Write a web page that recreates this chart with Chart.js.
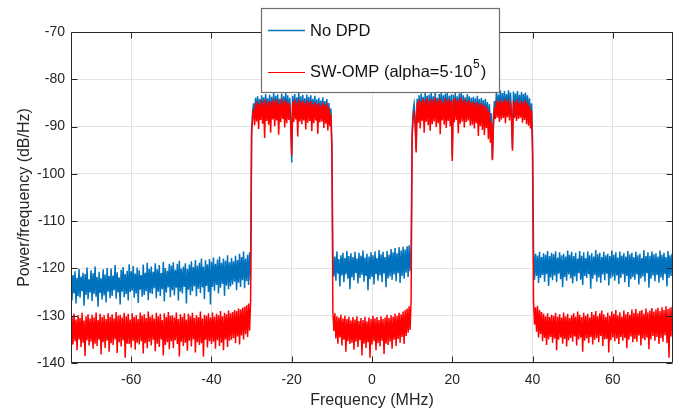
<!DOCTYPE html>
<html><head><meta charset="utf-8">
<script src="https://cdn.jsdelivr.net/npm/chart.js@4.4.1/dist/chart.umd.min.js"></script>
<style>html,body{margin:0;padding:0;background:#fff}canvas{display:block}</style>
</head><body>
<canvas id="c" width="689" height="411"></canvas>
<script>
// Sample grid of the spectrum (MHz)
const freqStartMHz = -75;
const freqStepMHz = 0.25;

// Tick labels
const xTickValues = [-60, -40, -20, 0, 20, 40, 60];
const yTickValues = [-140, -130, -120, -110, -100, -90, -80, -70];

// Series names
const noDpdName = 'No DPD';
const swOmpNameBase = 'SW-OMP (alpha=5·10';
const swOmpNameSup = '5';
const swOmpNameTail = ')';

// Power spectral density (dB/Hz), one value per 0.25 MHz
const noDpdPsd = [
// -75 .. -30.25 MHz
-119.2,-126.8,-121.4,-125.3,-120.6,-127.4,-122.0,-125.9,-120.1,-126.2,-121.7,-124.8,-120.9,-127.9,-121.2,-125.6,-119.8,-126.5,-122.3,-125.1,
-120.4,-126.9,-121.0,-125.4,-119.6,-126.0,-121.8,-128.1,-120.7,-125.2,-122.1,-126.6,-120.2,-125.7,-121.3,-127.2,-119.9,-124.9,-121.6,-126.3,
-120.0,-125.8,-121.5,-124.6,-119.3,-126.4,-120.8,-125.1,-121.9,-127.6,-120.3,-124.9,-119.7,-126.1,-121.2,-125.4,-120.5,-126.8,-119.1,-125.0,
-120.6,-124.7,-119.5,-126.2,-121.1,-125.3,-119.8,-127.3,-120.4,-124.5,-121.4,-126.0,-119.2,-125.6,-120.9,-124.8,-118.8,-126.7,-120.1,-125.2,
-119.6,-125.4,-120.7,-124.2,-118.9,-126.3,-120.2,-124.9,-119.3,-125.8,-121.0,-124.4,-118.6,-127.0,-119.9,-125.1,-120.5,-124.0,-119.0,-126.1,
-119.4,-124.6,-118.7,-125.7,-120.3,-124.1,-119.0,-126.8,-118.4,-124.9,-120.0,-125.3,-119.6,-123.9,-118.9,-127.4,-120.1,-124.5,-119.2,-125.6,
-118.5,-124.8,-119.7,-123.8,-118.2,-125.9,-119.4,-124.3,-118.8,-125.2,-117.9,-124.0,-119.6,-126.5,-118.3,-123.7,-119.1,-125.0,-118.0,-127.6,
-118.6,-123.9,-117.7,-124.7,-119.0,-123.5,-118.1,-125.3,-117.5,-124.1,-118.8,-123.3,-117.9,-125.8,-118.4,-123.6,-117.2,-124.4,-118.7,-123.8,
-117.8,-123.4,-118.5,-122.8,-117.3,-124.6,-118.2,-123.0,-116.9,-123.9,-117.6,-122.5,-116.4,-124.2,-117.9,-122.7,-117.1,-123.5,-116.6,-122.4,
// -30 .. -10 MHz
-90.8,-86.9,-85.1,-87.8,-83.9,-87.2,-83.6,-88.0,-84.2,-86.9,-83.4,-87.6,-83.8,-88.3,-83.1,-87.0,-84.0,-87.7,-83.3,-88.1,
-83.7,-87.4,-82.9,-88.0,-83.5,-86.8,-83.2,-87.9,-84.1,-87.3,-83.0,-88.4,-83.6,-87.1,-82.8,-87.8,-83.4,-87.5,-83.9,-88.2,
-97.6,
-83.5,-87.6,-83.1,-88.1,-83.8,-87.2,-82.9,-87.9,-83.6,-88.5,-83.3,-87.4,-84.0,-88.0,-83.2,-87.7,-83.7,-88.3,-83.4,-87.5,
-84.1,-88.2,-83.5,-87.6,-84.3,-88.7,-83.9,-87.8,-84.5,-88.4,-83.8,-88.9,-84.6,-88.1,-84.2,-89.3,-85.0,-88.6,-86.2,-93.5,
// -9.75 .. 9.75 MHz
-116.9,-121.7,-117.5,-122.6,-116.4,-121.1,-118.0,-123.8,-117.2,-121.5,-116.7,-122.9,-117.8,-121.3,-116.3,-122.2,-117.4,-124.4,-116.8,
-121.9,-117.6,-122.5,-116.5,-121.0,-117.9,-123.2,-116.7,-122.0,-117.3,-121.4,-116.2,-122.8,-117.7,-121.6,-116.9,-124.6,-117.5,-122.3,-116.6,
-121.8,-117.2,-123.4,-116.4,-121.2,-117.8,-122.6,-116.1,-121.5,-117.0,-122.9,-116.5,-121.1,-117.6,-124.0,-116.3,-122.1,-117.1,-121.7,-115.9,
-122.4,-116.6,-121.3,-115.7,-122.7,-116.8,-121.0,-115.5,-123.1,-116.2,-121.6,-115.4,-122.2,-116.0,-120.9,-115.3,-121.8,-115.1,-120.6,-115.6,
// 10 .. 40 MHz
-91.3,-86.8,-85.2,-88.0,-94.9,-84.1,-87.6,-83.4,-88.2,-83.0,-87.4,-83.7,-88.5,-82.8,-87.1,-83.5,-87.9,-83.2,-88.3,-82.9,
-87.6,-83.6,-88.0,-82.7,-87.3,-83.9,-88.6,-83.1,-87.5,-82.6,-88.1,-83.4,-87.2,-83.0,-87.8,-82.8,-88.4,-83.5,-87.7,-83.2,
-96.4,
-83.3,-87.9,-82.9,-87.4,-83.6,-88.3,-83.0,-87.6,-82.7,-88.0,-83.4,-87.2,-83.8,-88.5,-83.1,-87.8,-83.6,-88.2,-83.9,
-88.6,-83.7,-87.9,-84.0,-88.9,-83.5,-88.3,-84.2,-89.1,-83.9,-88.7,-84.4,-89.4,-84.1,-89.0,-84.8,-89.8,-85.3,-90.5,-87.2,
-96.9,
-88.8,-84.6,-87.4,-82.7,-87.0,-83.2,-86.6,-82.4,-87.3,-82.9,-86.8,-82.5,-87.5,-83.1,-86.9,-82.3,-87.2,-82.8,-86.7,
-94.6,
-82.6,-86.9,-83.0,-87.4,-82.5,-87.1,-83.3,-86.7,-82.7,-87.6,-83.1,-87.0,-82.8,-87.8,-83.4,-88.2,-84.0,-88.6,-85.1,
-92.3,
// 40.25 .. 75 MHz
-116.1,-122.4,-116.9,-121.6,-117.3,-123.1,-116.5,-122.0,-117.6,-121.4,-116.8,-122.8,-117.1,-121.2,-116.3,-123.7,-117.4,-121.9,-116.7,-122.5,
-117.0,-121.5,-116.4,-122.9,-117.7,-121.1,-116.6,-122.3,-117.2,-124.0,-116.9,-121.8,-117.5,-122.6,-116.2,-121.3,-117.1,-122.1,-116.5,-123.2,
-117.4,-121.7,-116.7,-122.7,-117.9,-121.0,-116.3,-122.4,-117.3,-123.5,-116.6,-121.6,-117.8,-122.0,-116.4,-121.2,-117.2,-124.3,-116.8,-122.2,
-117.5,-121.4,-116.1,-122.8,-117.0,-121.9,-116.7,-123.0,-117.6,-121.3,-116.5,-122.5,-117.2,-121.1,-116.9,-123.6,-117.4,-122.1,-116.2,-121.7,
-117.1,-122.6,-116.6,-121.5,-117.7,-123.3,-116.4,-122.0,-117.3,-121.2,-116.8,-122.9,-117.5,-121.6,-116.3,-123.9,-117.0,-122.3,-116.7,-121.8,
-117.6,-122.4,-116.5,-121.3,-117.2,-123.4,-116.9,-122.1,-117.8,-121.7,-116.1,-122.8,-117.4,-121.0,-116.6,-124.1,-117.3,-122.2,-116.4,-121.5,
-117.0,-122.7,-116.8,-121.4,-117.5,-123.0,-116.2,-121.9,-117.1,-122.5,-116.7,-121.2,-117.6,-123.8,-116.3,-122.0,-117.2,-121.6,-116.9,-119.6
];

const swOmpPsd = [
// -75 .. -30.25 MHz
-140.0,-130.2,-136.1,-129.6,-135.4,-130.8,-137.3,-129.9,-135.0,-130.5,-136.6,-129.4,-135.7,-131.0,-138.5,-130.1,-135.2,-129.7,-136.3,-130.6,
-135.5,-129.8,-137.0,-130.4,-135.9,-129.3,-136.4,-130.9,-135.1,-129.6,-138.2,-130.3,-135.6,-129.9,-136.8,-130.7,-135.3,-129.5,-137.6,-130.2,
-135.8,-129.7,-136.2,-130.6,-135.0,-129.2,-137.9,-130.0,-135.6,-129.8,-136.5,-130.4,-135.2,-129.4,-138.9,-130.1,-135.9,-129.6,-136.0,-130.8,
-136.7,-129.5,-135.3,-130.3,-137.2,-129.9,-135.7,-130.7,-136.1,-129.3,-135.4,-130.0,-138.0,-129.7,-135.8,-130.5,-136.9,-129.1,-135.5,-130.2,
-136.3,-129.8,-135.1,-130.6,-137.5,-129.4,-135.9,-130.1,-136.6,-129.6,-135.0,-130.9,-138.4,-129.5,-136.2,-130.3,-135.6,-129.2,-137.1,-130.0,
-135.4,-129.9,-136.8,-130.4,-135.2,-129.3,-136.0,-130.7,-138.6,-129.7,-135.5,-130.2,-136.4,-129.5,-135.7,-130.8,-137.4,-129.6,-135.3,-130.1,
-136.5,-129.4,-135.0,-130.5,-137.8,-129.9,-135.6,-130.3,-136.2,-129.1,-135.8,-130.6,-138.7,-129.8,-135.1,-130.0,-136.7,-129.5,-135.4,-130.4,
-136.0,-129.3,-135.5,-130.2,-137.0,-129.6,-135.2,-129.9,-136.4,-129.0,-135.7,-130.1,-137.3,-129.4,-135.0,-129.7,-136.6,-128.9,-135.3,-129.5,
-135.1,-129.2,-134.7,-128.8,-135.8,-129.0,-134.4,-128.5,-136.1,-128.7,-134.2,-128.3,-135.0,-128.1,-133.9,-127.8,-134.5,-127.4,-133.2,-126.9,
// -30 .. -10 MHz
-91.8,-88.0,-86.3,-89.7,-85.1,-88.9,-84.7,-90.5,-85.3,-88.6,-84.4,-89.4,-84.9,-92.4,-84.2,-88.8,-85.0,-89.6,-84.6,-91.3,
-84.8,-88.5,-84.1,-89.9,-84.6,-88.7,-84.3,-91.7,-85.2,-89.1,-84.0,-88.4,-84.7,-90.2,-84.4,-89.3,-84.9,-88.6,-85.1,-89.8,
-96.1,
-84.7,-89.0,-84.3,-88.5,-84.9,-92.1,-84.2,-88.9,-84.8,-89.5,-84.5,-88.7,-85.0,-90.6,-84.4,-89.2,-84.9,-88.8,-84.6,-91.0,
-85.2,-89.3,-84.8,-88.7,-85.3,-91.5,-85.0,-89.1,-85.5,-88.9,-84.9,-90.3,-85.4,-89.4,-85.1,-90.8,-86.0,-89.9,-87.3,-94.8,
// -9.75 .. 9.75 MHz
-128.9,-133.2,-129.5,-134.8,-130.1,-135.9,-130.4,-134.6,-129.8,-136.3,-130.6,-135.1,-130.0,-137.6,-130.7,-135.4,-130.2,-136.0,-131.0,
-135.7,-130.3,-137.2,-130.8,-135.5,-130.1,-136.6,-131.1,-135.2,-130.5,-138.4,-130.9,-135.9,-130.2,-136.8,-131.2,-135.6,-130.4,-138.9,-130.7,
-136.1,-130.0,-135.4,-130.6,-137.3,-130.3,-135.8,-130.9,-136.5,-130.1,-135.3,-130.7,-138.1,-130.4,-135.9,-129.8,-136.2,-130.5,-135.5,-129.9,
-137.0,-130.2,-135.1,-129.6,-136.4,-130.0,-134.9,-129.4,-135.7,-129.7,-134.5,-129.1,-136.0,-128.8,-134.3,-128.5,-133.6,-128.0,-133.0,-126.5,
// 10 .. 40 MHz
-92.2,-88.3,-86.6,-89.7,-95.5,-84.9,-89.2,-84.3,-90.4,-84.7,-88.8,-84.1,-91.3,-84.5,-89.0,-83.9,-89.7,-84.6,-90.9,-84.2,
-89.5,-84.4,-88.9,-83.8,-90.1,-84.6,-89.3,-84.0,-91.6,-84.3,-88.7,-84.8,-89.6,-83.9,-90.3,-84.5,-88.8,-84.1,-89.9,-84.6,
-97.3,
-84.3,-89.1,-83.9,-88.6,-84.5,-91.4,-84.1,-89.4,-83.8,-88.9,-84.6,-90.2,-84.2,-89.0,-84.8,-88.7,-84.4,-89.8,-84.9,
-89.6,-84.7,-90.4,-85.1,-89.3,-84.8,-92.0,-85.3,-89.9,-85.0,-90.7,-85.4,-91.8,-85.6,-90.3,-86.1,-92.7,-86.8,-93.4,-89.0,
-97.1,
-90.2,-86.0,-88.4,-84.4,-88.1,-84.8,-89.0,-84.3,-88.5,-84.7,-88.2,-84.2,-89.3,-84.6,-88.0,-84.1,-88.7,-84.9,-88.3,
-95.1,
-84.5,-88.2,-84.9,-88.8,-84.3,-88.4,-85.0,-88.1,-84.6,-89.2,-84.8,-88.6,-84.4,-89.5,-85.1,-89.8,-85.6,-90.4,-86.5,
-95.8,
// 40.25 .. 75 MHz
-127.0,-131.9,-128.2,-133.4,-127.9,-134.6,-128.8,-133.9,-129.2,-135.4,-129.6,-134.7,-130.1,-136.2,-129.5,-135.0,-130.3,-134.5,-129.8,-135.7,
-130.0,-134.8,-129.4,-137.3,-130.2,-135.1,-129.7,-134.6,-130.4,-135.9,-129.3,-134.9,-130.1,-136.5,-129.6,-135.2,-130.5,-134.7,-129.9,-135.5,
-129.5,-134.4,-130.2,-136.3,-129.1,-135.0,-129.8,-134.6,-130.3,-137.6,-129.4,-135.3,-130.0,-134.8,-129.6,-135.8,-130.4,-134.5,-129.2,-136.1,
-129.8,-135.1,-129.0,-134.7,-130.1,-135.6,-129.5,-134.3,-128.9,-136.4,-129.7,-135.0,-130.3,-134.9,-129.4,-137.8,-130.0,-135.2,-129.1,-134.6,
-129.6,-135.4,-128.8,-134.8,-129.9,-136.0,-129.3,-134.5,-130.2,-135.3,-128.9,-134.7,-129.7,-136.9,-129.2,-135.1,-129.8,-134.4,-128.7,-135.6,
-129.4,-134.9,-128.6,-135.5,-129.5,-134.2,-129.0,-136.3,-128.8,-134.8,-129.6,-135.2,-128.5,-134.6,-129.3,-137.1,-128.9,-135.0,-128.4,-134.3,
-129.1,-135.3,-128.7,-134.5,-128.3,-136.0,-129.0,-134.7,-128.2,-135.5,-128.8,-134.1,-128.0,-135.8,-128.6,-138.9,-128.3,-134.4,-128.1,-133.6
];

const FONT = '"Liberation Sans", Arial, Helvetica, sans-serif';
const AXIS_COLOR = '#262626';
const BLUE = '#0072BD';
const RED = '#FF0000';

const toPoints = arr => arr.map((v, i) => ({x: freqStartMHz + i * freqStepMHz, y: v}));

const framePlugin = {
  id: 'matlabFrame',
  afterDraw(chart) {
    const ctx = chart.ctx;
    const a = chart.chartArea;
    const xs = chart.scales.x, ys = chart.scales.y;
    const L = Math.round(a.left) + 0.5, R = Math.round(a.right) - 0.5;
    const T = Math.round(a.top) + 0.5, B = Math.round(a.bottom) - 0.5;
    ctx.save();
    ctx.strokeStyle = AXIS_COLOR;
    ctx.lineWidth = 1;
    ctx.beginPath();
    ctx.rect(L, T, R - L, B - T);
    const tl = 6;
    xTickValues.forEach(v => {
      const px = Math.round(xs.getPixelForValue(v)) + 0.5;
      ctx.moveTo(px, B); ctx.lineTo(px, B - tl);
      ctx.moveTo(px, T); ctx.lineTo(px, T + tl);
    });
    yTickValues.forEach(v => {
      const py = Math.round(ys.getPixelForValue(v)) + 0.5;
      ctx.moveTo(L, py); ctx.lineTo(L + tl, py);
      ctx.moveTo(R, py); ctx.lineTo(R - tl, py);
    });
    ctx.stroke();

    // Legend box
    const bx = 261.5, by = 8.5, bw = 238, bh = 84;
    ctx.fillStyle = '#ffffff';
    ctx.fillRect(bx, by, bw, bh);
    ctx.strokeStyle = '#6e6e6e';
    ctx.lineWidth = 1.2;
    ctx.strokeRect(bx, by, bw, bh);

    ctx.lineWidth = 1.6;
    ctx.strokeStyle = BLUE;
    ctx.beginPath(); ctx.moveTo(268, 30.5); ctx.lineTo(305, 30.5); ctx.stroke();
    ctx.lineWidth = 1.2;
    ctx.strokeStyle = RED;
    ctx.beginPath(); ctx.moveTo(268, 72.5); ctx.lineTo(305, 72.5); ctx.stroke();

    ctx.fillStyle = '#111111';
    ctx.textBaseline = 'middle';
    ctx.textAlign = 'left';
    ctx.font = '16.5px ' + FONT;
    ctx.fillText(noDpdName, 310, 31);
    ctx.fillText(swOmpNameBase, 310, 72);
    const w = ctx.measureText(swOmpNameBase).width;
    ctx.font = '12px ' + FONT;
    ctx.fillText(swOmpNameSup, 310 + w + 0.5, 65);
    const ws = ctx.measureText(swOmpNameSup).width;
    ctx.font = '16.5px ' + FONT;
    ctx.fillText(swOmpNameTail, 310 + w + ws + 1.5, 72);
    ctx.restore();
  }
};

new Chart(document.getElementById('c'), {
  type: 'line',
  data: {
    datasets: [
      {label: noDpdName, data: toPoints(noDpdPsd), borderColor: BLUE, borderWidth: 1.5, pointRadius: 0, tension: 0, order: 2},
      {label: swOmpNameBase + '^' + swOmpNameSup + swOmpNameTail, data: toPoints(swOmpPsd), borderColor: RED, borderWidth: 1.5, pointRadius: 0, tension: 0, order: 1}
    ]
  },
  options: {
    responsive: false,
    animation: false,
    events: [],
    layout: {padding: {top: 32, right: 16, left: 0, bottom: 0}},
    plugins: {legend: {display: false}, tooltip: {enabled: false}},
    scales: {
      x: {
        type: 'linear', min: -75, max: 75,
        afterBuildTicks: s => { s.ticks = xTickValues.map(v => ({value: v})); },
        afterFit: s => { s.height = 48; },
        grid: {color: '#e3e3e3', drawTicks: false, lineWidth: 1},
        border: {display: false},
        ticks: {padding: 9, color: AXIS_COLOR, font: {family: FONT, size: 14}, maxRotation: 0},
        title: {display: true, text: 'Frequency (MHz)', color: AXIS_COLOR, font: {family: FONT, size: 16}, padding: {top: 0, bottom: 1}}
      },
      y: {
        type: 'linear', min: -140, max: -70,
        afterBuildTicks: s => { s.ticks = yTickValues.map(v => ({value: v})); },
        afterFit: s => { s.width = 71; },
        grid: {color: '#e3e3e3', drawTicks: false, lineWidth: 1},
        border: {display: false},
        ticks: {padding: 6, color: AXIS_COLOR, font: {family: FONT, size: 14}},
        title: {display: true, text: 'Power/frequency (dB/Hz)', color: AXIS_COLOR, font: {family: FONT, size: 16}, padding: {top: 15, bottom: 0}}
      }
    }
  },
  plugins: [framePlugin]
});
</script>
</body></html>
